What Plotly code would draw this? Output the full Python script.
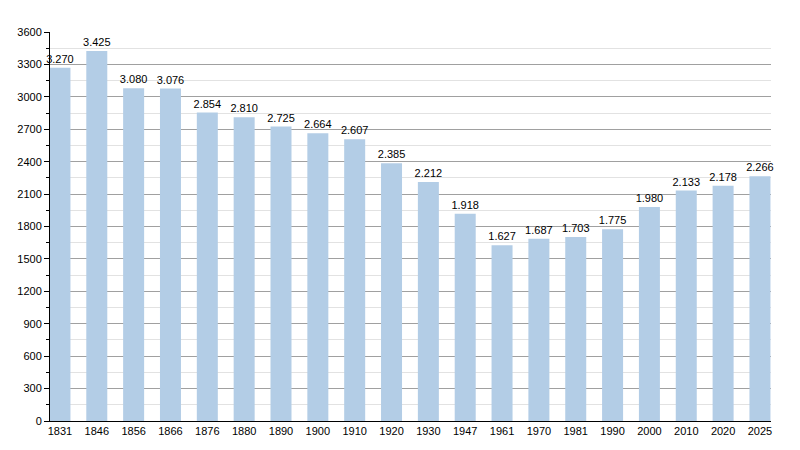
import plotly.graph_objects as go

years = ["1831", "1846", "1856", "1866", "1876", "1880", "1890", "1900", "1910", "1920",
         "1930", "1947", "1961", "1970", "1981", "1990", "2000", "2010", "2020", "2025"]
population = [3270, 3425, 3080, 3076, 2854, 2810, 2725, 2664, 2607, 2385,
              2212, 1918, 1627, 1687, 1703, 1775, 1980, 2133, 2178, 2266]
y_ticks = list(range(0, 3601, 300))

fig = go.Figure()
fig.add_trace(go.Bar(
    x=list(range(len(years))), y=population,
    marker=dict(color="#b3cde6", line=dict(width=0)),
    width=0.57,
    texttemplate="%{y:,}", textposition="outside",
    constraintext="none",
    textfont=dict(family="Liberation Sans, Arial", size=11, color="#000"),
    cliponaxis=False,
))

fig.update_layout(
    width=792, height=442,
    margin=dict(l=42, r=29, t=24, b=29, autoexpand=False),
    plot_bgcolor="white", paper_bgcolor="white",
    separators=",.",
    showlegend=False,
    font=dict(family="Liberation Sans, Arial", size=11, color="#000"),
    xaxis=dict(
        tickmode="array", tickvals=list(range(len(years))), ticktext=years,
        range=[-0.27, 19.3], showgrid=False, showline=True, linecolor="#000",
        linewidth=1, ticks="", tickfont=dict(size=11), automargin=False,
    ),
    yaxis=dict(
        range=[0, 3600], tickmode="array", tickvals=y_ticks,
        ticks="outside", ticklen=5, tickcolor="#000",
        showline=True, linecolor="#000", linewidth=1,
        showgrid=True, gridcolor="#a0a0a0", gridwidth=1,
        zeroline=False, tickfont=dict(size=11), automargin=False,
        minor=dict(dtick=150, tick0=0, showgrid=True, gridcolor="#e2e2e2",
                   ticks="outside", ticklen=3, tickcolor="#000"),
    ),
)

fig.write_html("out.html")
